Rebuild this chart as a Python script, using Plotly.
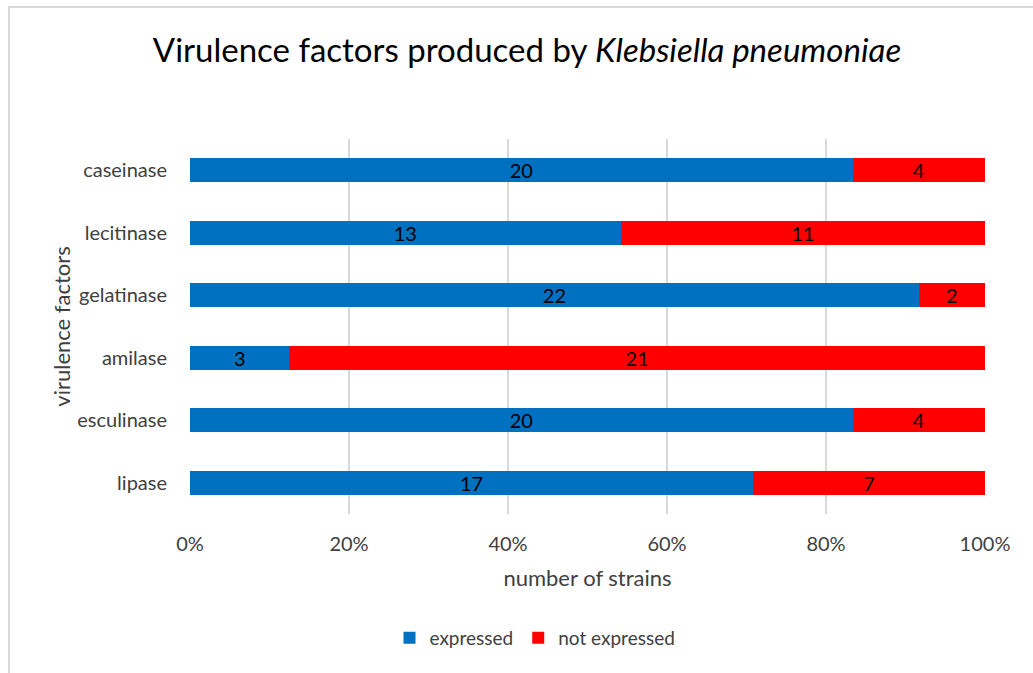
import plotly.graph_objects as go

categories = ["lipase", "esculinase", "amilase", "gelatinase", "lecitinase", "caseinase"]
expressed = [17, 20, 3, 22, 13, 20]
not_expressed = [7, 4, 21, 2, 11, 4]
tick_vals = [0, 20, 40, 60, 80, 100]
tick_text = ["0%", "20%", "40%", "60%", "80%", "100%"]

FONT = "Lato"

fig = go.Figure()
fig.add_trace(go.Bar(
    y=categories, x=expressed, name="expressed", orientation="h",
    marker=dict(color="#0070C0", line=dict(width=0)),
    text=expressed, textposition="inside", insidetextanchor="middle", textangle=0,
    constraintext="none",
    textfont=dict(color="#000000", size=20, family=FONT),
))
fig.add_trace(go.Bar(
    y=categories, x=not_expressed, name="not expressed", orientation="h",
    marker=dict(color="#FF0000", line=dict(width=0)),
    text=not_expressed, textposition="inside", insidetextanchor="middle", textangle=0,
    constraintext="none",
    textfont=dict(color="#000000", size=20, family=FONT),
))

fig.update_layout(
    barmode="stack", barnorm="percent", bargap=0.62,
    width=1033, height=673,
    margin=dict(l=190, r=48, t=139, b=159),
    paper_bgcolor="white", plot_bgcolor="white",
    font=dict(family=FONT, color="#404040", size=20),
    title=dict(
        text="Virulence factors produced by <i>Klebsiella pneumoniae</i>",
        x=527/1033, xanchor="center", y=1 - 50/673, yanchor="middle",
        font=dict(size=33, color="#000000", family=FONT),
    ),
    xaxis=dict(
        range=[0, 100], tickvals=tick_vals, ticktext=tick_text,
        showgrid=True, gridcolor="#D9D9D9", gridwidth=2,
        zeroline=False, showline=False, ticks="",
        ticklabelstandoff=16,
        tickfont=dict(size=20, color="#404040"),
        title=dict(text="number of strains", font=dict(size=22, color="#404040"), standoff=16),
        fixedrange=True,
    ),
    yaxis=dict(
        categoryorder="array", categoryarray=categories,
        showgrid=False, zeroline=False, showline=False, ticks="",
        ticklabelstandoff=22,
        tickfont=dict(size=20, color="#404040"),
        title=dict(text="virulence factors", font=dict(size=22, color="#404040"), standoff=0),
        fixedrange=True,
    ),
    legend=dict(
        orientation="h", x=(535 - 190) / 795, xanchor="center",
        y=-(638 - 514) / 375, yanchor="middle",
        font=dict(size=19, color="#404040"),
        itemwidth=30, traceorder="normal",
    ),
    shapes=[dict(
        type="rect", xref="paper", yref="paper",
        x0=(9 - 190) / 795, x1=1.2, y0=-0.6, y1=(514 - 7) / 375,
        line=dict(color="#D9D9D9", width=2), layer="below",
    )],
)

fig.write_html("out.html")
